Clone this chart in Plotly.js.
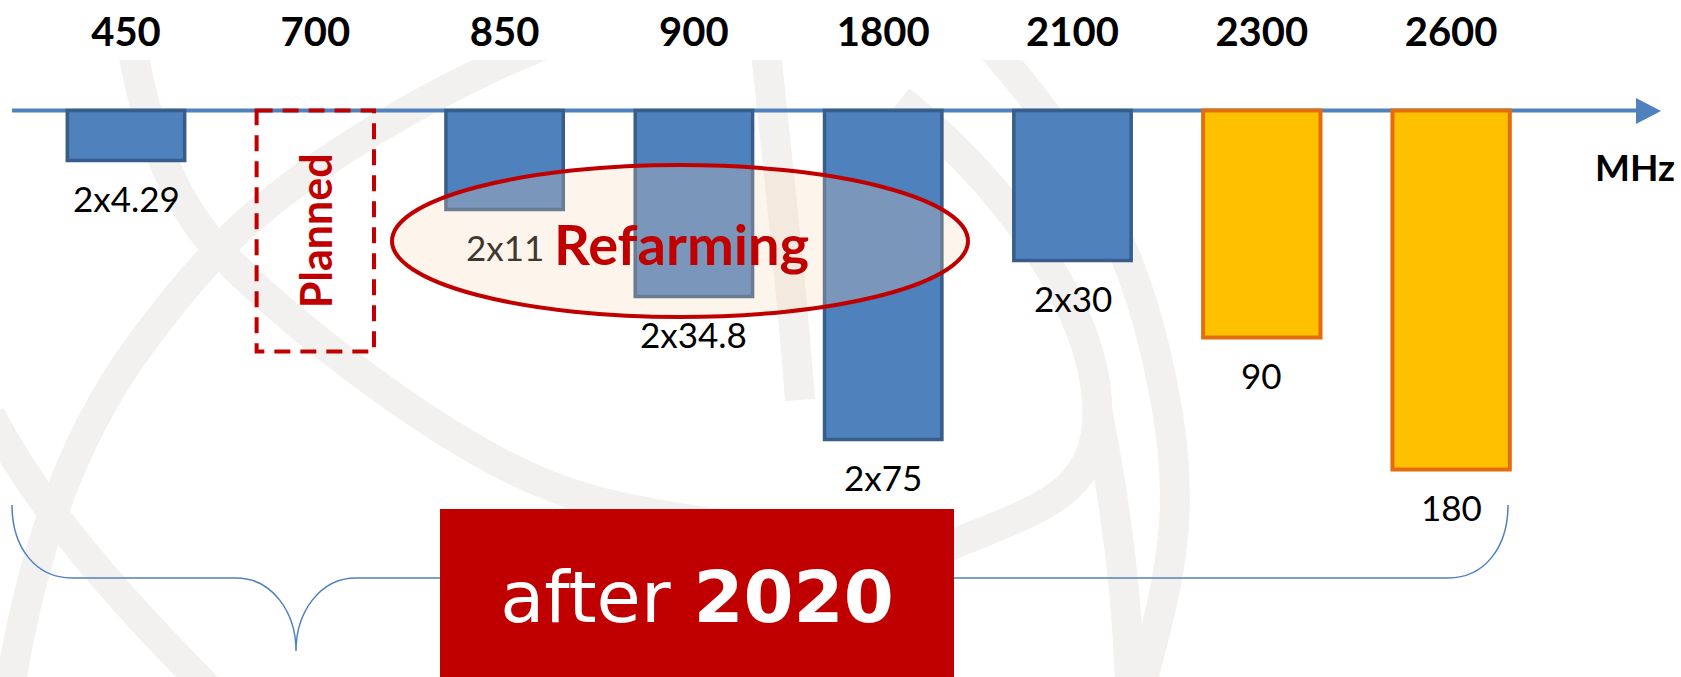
<!DOCTYPE html>
<html><head><meta charset="utf-8">
<script src="https://cdn.plot.ly/plotly-3.0.1.min.js"></script>
<style>html,body{margin:0;padding:0;background:#fff;overflow:hidden}</style>
</head><body><div id="chart" style="width:1681px;height:677px"></div>
<script>
// ---- data ----
const bands = ['450','700','850','900','1800','2100','2300','2600'];
const existingBands = ['450','850','900','1800','2100'];
const existingDepth = [50, 99, 186, 329, 150];
const existingLabels = ['2x4.29','2x11','2x34.8','2x75','2x30'];
const newBands = ['2300','2600'];
const newDepth = [227, 359];
const newLabels = ['90','180'];
const plannedBand = '700';
const plannedDepth = 241;
const plannedLabel = 'Planned';
const refarmingLabel = 'Refarming';
const unitLabel = 'MHz';
const periodLabel = 'after <b>2020</b>';

// ---- geometry helpers (layout only) ----
const W = 1681, H = 677, MT = 60;
const Y0PX = 110.5;                 // pixel row of the zero line
const X = px => px / W;             // paper x
const Y = py => Y0PX - py;          // data y (1 unit = 1 px)
const pathPx = d => d.replace(/(-?\d+(?:\.\d+)?),(-?\d+(?:\.\d+)?)/g,
  (m, a, b) => X(+a).toFixed(5) + ',' + Y(+b).toFixed(2));
const BW = 0.62;
const idx = b => bands.indexOf(b);

const blue = '#4F81BD', blueEdge = '#385D8A';
const gold = '#FFC000', goldEdge = '#E46C0A';
const red = '#C00000', wm = '#F2F1EF';

const traces = [
  {type:'scatter', x:bands, y:bands.map(()=>0), mode:'markers',
   marker:{opacity:0}, hoverinfo:'skip', showlegend:false},
  {type:'bar', name:'Existing', x:existingBands, y:existingDepth.map(d=>-d), width:BW,
   marker:{color:blue, line:{color:blueEdge, width:3.5}}, hoverinfo:'skip', showlegend:false},
  {type:'bar', name:'New', x:newBands, y:newDepth.map(d=>-d), width:BW,
   marker:{color:gold, line:{color:goldEdge, width:4}}, hoverinfo:'skip', showlegend:false}
];

const wmStroke = d => ({type:'path', xref:'paper', yref:'y', layer:'below',
  path:pathPx(d), line:{color:wm, width:30}, fillcolor:'rgba(0,0,0,0)'});

const iPlan = idx(plannedBand);
const shapes = [
  // faint watermark
  wmStroke('M 125,-10 C 135,100 165,190 214,245 S 380,395 480,452 S 640,510 720,525'),
  wmStroke('M 10,690 C 30,560 70,440 140,345 S 260,200 375,130 S 560,40 680,-10'),
  wmStroke('M -10,415 C 30,490 90,570 210,690'),
  wmStroke('M 935,-10 C 1040,90 1120,200 1155,350 S 1175,560 1140,690'),
  wmStroke('M 900,100 C 1000,180 1090,300 1097,400 S 1030,510 940,550'),
  wmStroke('M 1097,410 C 1115,500 1128,600 1130,690'),
  wmStroke('M 760,-10 C 772,120 790,260 800,400'),
  // zero line with arrow
  {type:'line', xref:'paper', yref:'y', x0:X(12), x1:X(1640), y0:0, y1:0,
   line:{color:blue, width:4}, layer:'below'},
  {type:'path', xref:'paper', yref:'y', path:pathPx('M 1636,98 L 1661,111 L 1636,124 Z'),
   fillcolor:blue, line:{width:0}, layer:'below'},
  // brace
  {type:'path', xref:'paper', yref:'y', layer:'below', fillcolor:'rgba(0,0,0,0)',
   path:pathPx('M 12,505 C 12,548 36,578 72,578 L 236,578 C 272,578 296,612 296,651 C 296,612 320,578 356,578 L 1448,578 C 1484,578 1508,548 1508,505'),
   line:{color:blue, width:1.5}},
  // planned box
  {type:'rect', xref:'x', yref:'y', x0:iPlan-BW/2, x1:iPlan+BW/2, y0:0, y1:-plannedDepth,
   line:{color:red, width:4, dash:'16px,10px'}, fillcolor:'rgba(0,0,0,0)', layer:'above'},
  // refarming ellipse
  {type:'circle', xref:'paper', yref:'y', x0:X(392), x1:X(968), y0:Y(165), y1:Y(317),
   fillcolor:'rgba(247,213,178,0.26)', line:{color:red, width:4}, layer:'above'}
];

const labelFont = c => ({family:'Lato', size:35, color:c});
const annotations = [];
existingBands.forEach((b,i)=>annotations.push({x:idx(b), y:-existingDepth[i], xref:'x', yref:'y',
  yanchor:'top', yshift:-14, showarrow:false, text:existingLabels[i],
  font:labelFont(b==='850' ? '#40372E' : '#000')}));
newBands.forEach((b,i)=>annotations.push({x:idx(b), y:-newDepth[i], xref:'x', yref:'y',
  yanchor:'top', yshift:-14, showarrow:false, text:newLabels[i], font:labelFont('#000')}));
annotations.push(
  {x:iPlan, y:-plannedDepth/2, xref:'x', yref:'y', textangle:-90, showarrow:false,
   text:plannedLabel, font:{family:'Lato', size:43, color:red, weight:700}},
  {x:X(681), y:Y(243), xref:'paper', yref:'y', showarrow:false, text:refarmingLabel,
   font:{family:'Lato', size:56, color:red, weight:700}},
  {x:X(1677), y:Y(166), xref:'paper', yref:'y', xanchor:'right', showarrow:false, text:unitLabel,
   font:{family:'Lato', size:37, color:'#000', weight:700}},
  {x:X(697), y:Y(509), xref:'paper', yref:'y', yanchor:'top', showarrow:false,
   text:periodLabel, width:514, height:176, bgcolor:red, borderwidth:0, borderpad:0,
   align:'center', valign:'middle', font:{family:'DejaVu Sans', size:72, color:'#fff'}}
);

const layout = {
  width:W, height:H, margin:{l:0, r:0, t:MT, b:0, pad:0},
  paper_bgcolor:'#fff', plot_bgcolor:'rgba(0,0,0,0)',
  barmode:'overlay', showlegend:false, hovermode:false,
  xaxis:{type:'category', categoryorder:'array', categoryarray:bands,
    range:[-0.6656, 8.2144], side:'top', ticks:'', ticklabelstandoff:5,
    showgrid:false, zeroline:false, showline:false, fixedrange:true,
    tickfont:{family:'Lato', size:40, color:'#000', weight:700}},
  yaxis:{range:[Y(H), Y(MT)], visible:false, showgrid:false, zeroline:false, fixedrange:true},
  shapes, annotations
};

Plotly.newPlot('chart', traces, layout, {displayModeBar:false, staticPlot:true});
</script></body></html>
